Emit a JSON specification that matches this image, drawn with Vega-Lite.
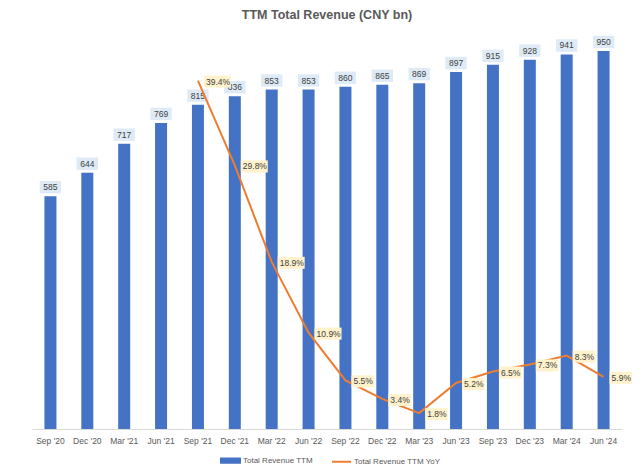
{
  "$schema": "https://vega.github.io/schema/vega-lite/v6.json",
  "autosize": "none",
  "width": 590,
  "height": 398,
  "padding": {"left": 32, "top": 31, "right": 18, "bottom": 38},
  "background": "white",
  "config": {
    "view": {"stroke": null},
    "font": "Liberation Sans",
    "text": {"font": "Liberation Sans"}
  },
  "title": {
    "text": "TTM Total Revenue (CNY bn)",
    "fontSize": 12.5,
    "fontWeight": "bold",
    "color": "#595959",
    "anchor": "middle",
    "offset": 10
  },
  "data": {
    "values": [
      {"q": "Sep '20", "rev": 585, "yoy": null},
      {"q": "Dec '20", "rev": 644, "yoy": null},
      {"q": "Mar '21", "rev": 717, "yoy": null},
      {"q": "Jun '21", "rev": 769, "yoy": null},
      {"q": "Sep '21", "rev": 815, "yoy": 0.394},
      {"q": "Dec '21", "rev": 836, "yoy": 0.298},
      {"q": "Mar '22", "rev": 853, "yoy": 0.189},
      {"q": "Jun '22", "rev": 853, "yoy": 0.109},
      {"q": "Sep '22", "rev": 860, "yoy": 0.055},
      {"q": "Dec '22", "rev": 865, "yoy": 0.034},
      {"q": "Mar '23", "rev": 869, "yoy": 0.018},
      {"q": "Jun '23", "rev": 897, "yoy": 0.052},
      {"q": "Sep '23", "rev": 915, "yoy": 0.065},
      {"q": "Dec '23", "rev": 928, "yoy": 0.073},
      {"q": "Mar '24", "rev": 941, "yoy": 0.083},
      {"q": "Jun '24", "rev": 950, "yoy": 0.059}
    ]
  },
  "encoding": {
    "x": {
      "field": "q",
      "type": "nominal",
      "sort": null,
      "scale": {"paddingInner": 0, "paddingOuter": 0},
      "axis": {
        "title": null,
        "labelAngle": 0,
        "ticks": false,
        "tickSize": 0,
        "labelPadding": 7,
        "labelFontSize": 8.5,
        "labelColor": "#595959",
        "domainColor": "#D9D9D9",
        "domainWidth": 1,
        "grid": false
      }
    }
  },
  "layer": [
    {
      "encoding": {
        "y": {"field": "rev", "type": "quantitative", "scale": {"domain": [0, 1000]}, "axis": null}
      },
      "layer": [
        {
          "mark": {"type": "bar", "size": 12},
          "encoding": {
            "color": {
              "datum": "Total Revenue TTM",
              "type": "nominal",
              "scale": {"domain": ["Total Revenue TTM", "Total Revenue TTM YoY"], "range": ["#4472C4", "#ED7D31"]},
              "legend": {
                "title": null,
                "orient": "none",
                "legendX": 188,
                "legendY": 419,
                "direction": "horizontal",
                "symbolSize": 361,
                "labelFontSize": 8,
                "labelColor": "#595959",
                "labelOffset": 2,
                "columnPadding": 15,
                "encode": {
                  "symbols": {
                    "update": {
                      "shape": {"signal": "datum.value === 'Total Revenue TTM' ? 'M-1,-0.22H1V0.22H-1Z' : 'M-1,0H1'"},
                      "fill": {"signal": "datum.value === 'Total Revenue TTM' ? '#4472C4' : 'transparent'"},
                      "stroke": {"signal": "datum.value === 'Total Revenue TTM' ? 'transparent' : '#ED7D31'"},
                      "strokeWidth": {"value": 2},
                      "opacity": {"value": 1}
                    }
                  }
                }
              }
            }
          }
        },
        {
          "mark": {
            "type": "point",
            "shape": "M-1.07,-1.52H1.07V-0.28H-1.07Z",
            "size": 400,
            "filled": true,
            "fill": "#DEEBF7",
            "opacity": 1,
            "strokeWidth": 0
          }
        },
        {
          "mark": {"type": "text", "dy": -9, "baseline": "middle", "align": "center", "fontSize": 8.5, "color": "#404040"},
          "encoding": {"text": {"field": "rev", "type": "quantitative"}}
        }
      ]
    },
    {
      "encoding": {
        "y": {"field": "yoy", "type": "quantitative", "scale": {"domain": [0, 0.45]}, "axis": null}
      },
      "layer": [
        {
          "mark": {"type": "line", "strokeWidth": 2, "color": "#ED7D31"},
          "encoding": {
            "color": {"datum": "Total Revenue TTM YoY", "type": "nominal"}
          }
        },
        {
          "transform": [{"filter": "datum.yoy >= 0.1"}],
          "mark": {
            "type": "point",
            "shape": "M0.6,-0.5H3.3V0.7H0.6Z",
            "size": 400,
            "filled": true,
            "fill": "#FFF2CC",
            "opacity": 1,
            "strokeWidth": 0
          }
        },
        {
          "transform": [{"filter": "datum.yoy != null && datum.yoy < 0.1"}],
          "mark": {
            "type": "point",
            "shape": "M0.6,-0.5H2.85V0.7H0.6Z",
            "size": 400,
            "filled": true,
            "fill": "#FFF2CC",
            "opacity": 1,
            "strokeWidth": 0
          }
        },
        {
          "transform": [{"filter": "datum.yoy != null"}],
          "mark": {"type": "text", "dx": 8, "dy": 1, "baseline": "middle", "align": "left", "fontSize": 8.5, "color": "#404040"},
          "encoding": {"text": {"field": "yoy", "type": "quantitative", "format": ".1%"}}
        }
      ]
    }
  ],
  "resolve": {"scale": {"y": "independent"}}
}
